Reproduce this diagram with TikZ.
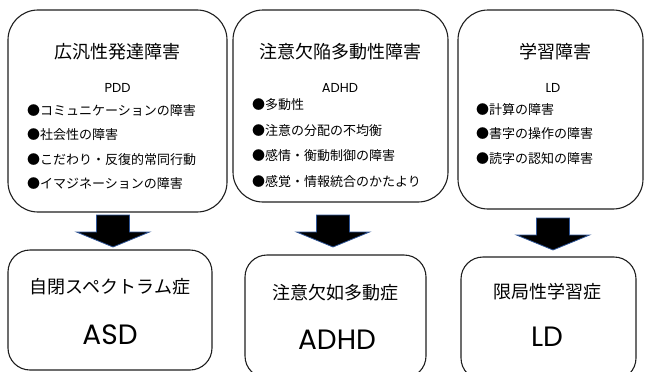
\documentclass[tikz,border=0pt]{standalone}
\usepackage{fontspec}
\setmainfont{Noto Sans CJK JP}
\newfontfamily\latinfont{Poppins}
\usepackage{tikz}
\usetikzlibrary{positioning,calc}
\definecolor{ArrowBlue}{RGB}{47,85,151}
\definecolor{BoxLine}{RGB}{30,30,30}
\tikzset{
    blockarrow/.pic={
        \draw[draw=ArrowBlue, fill=black, line width=0.8pt, line join=miter]
            (-16.5,0) -- (16.5,0) -- (16.5,17) -- (36.5,17) -- (0,32)
            -- (-36.5,17) -- (-16.5,17) -- cycle;
    }
}

\begin{document}
\begin{tikzpicture}[
        x=1pt, y=-1pt,
        % Style hộp trên: bo góc lớn
        topbox/.style={
            draw=BoxLine,
            line width=1.1pt,
            rounded corners=30pt,
            inner sep=0pt
        },
        % Style hộp dưới
        bottombox/.style={
            draw=BoxLine,
            line width=1.1pt,
            rounded corners=22pt,
            inner sep=0pt
        },
        % Style tiêu đề, chữ viết tắt, danh sách
        title/.style={font=\fontsize{18}{20}\selectfont, inner sep=0pt},
        abbr/.style={font=\latinfont\fontsize{13}{15}\selectfont, inner sep=0pt},
        items/.style={anchor=west, align=left, inner sep=0pt},
        bigabbr/.style={font=\latinfont\fontsize{28}{30}\selectfont, inner sep=0pt}
    ]

        \useasboundingbox (0,0) rectangle (645,372);

        % --- 1. CÁC HỘP TRÊN ---
        \node[topbox, minimum width=219pt, minimum height=202pt] (t1) at (117.5,111) {};
        \node[topbox, minimum width=215pt, minimum height=192pt] (t2) at (340.5,106) {};
        \node[topbox, minimum width=185pt, minimum height=199pt] (t3) at (550.5,109.5) {};

        \node[title] (t1title) at (117.5,52) {広汎性発達障害};
        \node[abbr] (t1abbr) at (117.5,88) {PDD};
        \node[items, font=\fontsize{13}{24.6}\selectfont] (t1items) at (27,147)
            {●コミュニケーションの障害\\●社会性の障害\\●こだわり・反復的常同行動\\●イマジネーションの障害};

        \node[title] (t2title) at (340,52) {注意欠陥多動性障害};
        \node[abbr] (t2abbr) at (340,88) {ADHD};
        \node[items, font=\fontsize{13}{25.7}\selectfont] (t2items) at (252,143)
            {●多動性\\●注意の分配の不均衡\\●感情・衡動制御の障害\\●感覚・情報統合のかたより};

        \node[title] (t3title) at (555,52) {学習障害};
        \node[abbr] (t3abbr) at (553,88) {LD};
        \node[items, font=\fontsize{13}{24.5}\selectfont] (t3items) at (476,134)
            {●計算の障害\\●書字の操作の障害\\●読字の認知の障害};

        % --- 2. MŨI TÊN ---
        \coordinate (a1) at (113,215);
        \coordinate (a2) at (333,215);
        \coordinate (a3) at (553,218);
        \foreach \a in {a1,a2,a3}
            \pic at (\a) {blockarrow};

        % --- 3. CÁC HỘP DƯỚI ---
        \node[bottombox, minimum width=204pt, minimum height=120pt] (b1) at (110,310) {};
        \node[bottombox, minimum width=181pt, minimum height=123pt] (b2) at (335.5,316.5) {};
        \node[bottombox, minimum width=175pt, minimum height=123pt] (b3) at (548.5,318.5) {};

        \node[title] (b1title) at (110,287) {自閉スペクトラム症};
        \node[bigabbr] (b1abbr) at (110,335) {ASD};
        \node[title] (b2title) at (335,293) {注意欠如多動症};
        \node[bigabbr] (b2abbr) at (337,340) {ADHD};
        \node[title] (b3title) at (547,292) {限局性学習症};
        \node[bigabbr] (b3abbr) at (547,337) {LD};

    \end{tikzpicture}
\end{document}
